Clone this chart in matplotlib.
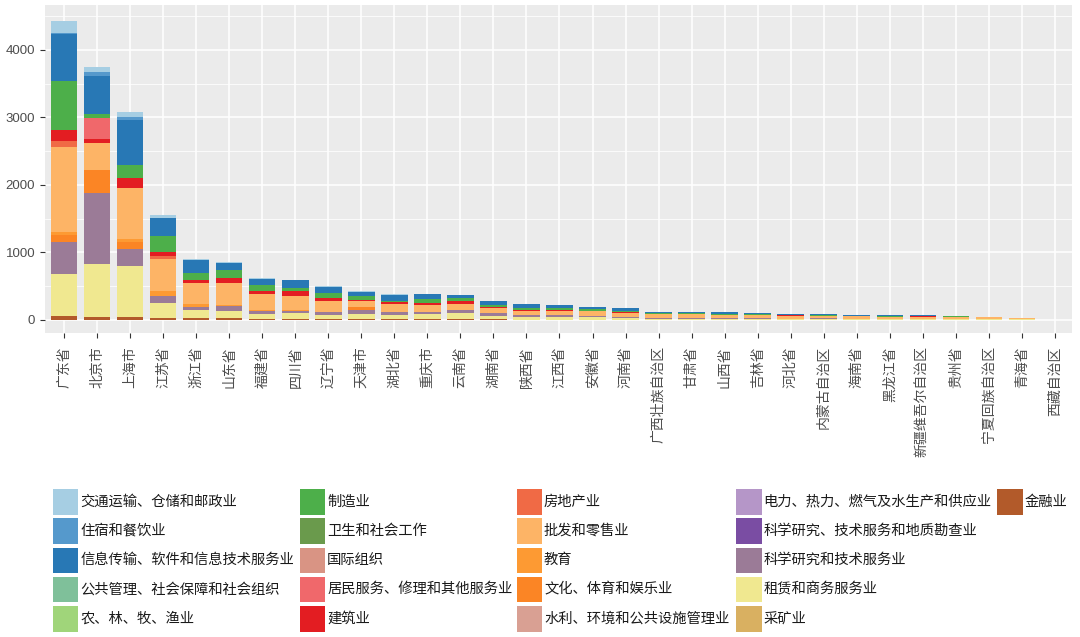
import matplotlib
matplotlib.use("Agg")
import matplotlib.pyplot as plt
from matplotlib.patches import Rectangle
import numpy as np

provinces = ["广东省", "北京市", "上海市", "江苏省", "浙江省", "山东省", "福建省", "四川省",
             "辽宁省", "天津市", "湖北省", "重庆市", "云南省", "湖南省", "陕西省", "江西省",
             "安徽省", "河南省", "广西壮族自治区", "甘肃省", "山西省", "吉林省", "河北省",
             "内蒙古自治区", "海南省", "黑龙江省", "新疆维吾尔自治区", "贵州省", "宁夏回族自治区",
             "青海省", "西藏自治区"]

industries = ["交通运输、仓储和邮政业", "住宿和餐饮业", "信息传输、软件和信息技术服务业",
              "公共管理、社会保障和社会组织", "农、林、牧、渔业", "制造业", "卫生和社会工作",
              "国际组织", "居民服务、修理和其他服务业", "建筑业", "房地产业", "批发和零售业",
              "教育", "文化、体育和娱乐业", "水利、环境和公共设施管理业",
              "电力、热力、燃气及水生产和供应业", "科学研究、技术服务和地质勘查业",
              "科学研究和技术服务业", "租赁和商务服务业", "采矿业", "金融业"]

colors = ["#a6cee3", "#5599cc", "#2878b5", "#7fc09a", "#a0d57a", "#4daf4a", "#6a9a4c",
          "#d99484", "#f0686b", "#e31d22", "#f06a45", "#fdb466", "#fd9a33", "#fb8525",
          "#d9a093", "#b596c8", "#7a4da3", "#9b7b97", "#f0e890", "#d9b061", "#b25a2a"]

# values per industry, in province order
jiaotong  = [182, 74, 70, 45, 15, 20, 10, 10, 10, 20, 5, 0, 0, 0, 0, 0, 0, 0, 0, 0, 0, 0, 0, 0, 0, 0, 0, 0, 0, 0, 0]
zhusu     = [20, 64, 40, 0, 0, 0, 0, 0, 0, 0, 0, 0, 0, 0, 0, 0, 0, 0, 0, 0, 0, 0, 0, 0, 0, 0, 0, 0, 0, 0, 0]
xinxi     = [700, 568, 672, 262, 192, 103, 88, 114, 79, 64, 90, 74, 50, 59, 59, 45, 40, 40, 25, 20, 25, 20, 15, 20, 15, 15, 10, 12, 0, 0, 0]
gonggong  = [0] * 31
nonglin   = [0, 0, 0, 0, 0, 0, 0, 0, 0, 0, 0, 0, 0, 0, 0, 0, 0, 0, 0, 0, 0, 0, 0, 0, 0, 0, 0, 0, 0, 3, 0]
zhizao    = [716, 59, 183, 232, 99, 124, 89, 49, 74, 50, 20, 50, 35, 25, 25, 22, 20, 20, 10, 15, 10, 15, 10, 8, 8, 10, 10, 5, 8, 6, 0]
weisheng  = [0] * 31
guoji     = [0] * 31
jumin     = [0, 307, 0, 0, 0, 0, 0, 0, 0, 0, 0, 0, 0, 0, 0, 0, 0, 0, 0, 0, 0, 0, 0, 0, 0, 0, 0, 0, 0, 0, 0]
jianzhu   = [173, 64, 148, 64, 50, 64, 50, 64, 50, 24, 35, 35, 50, 25, 15, 18, 10, 8, 0, 0, 0, 0, 10, 0, 0, 0, 8, 0, 0, 0, 0]
fangdichan = [84, 0, 0, 49, 0, 0, 0, 0, 0, 0, 0, 0, 0, 0, 0, 0, 0, 0, 0, 0, 0, 0, 0, 0, 0, 0, 0, 0, 0, 0, 0]
pifa      = [1264, 395, 765, 479, 306, 331, 232, 208, 162, 75, 118, 99, 89, 74, 59, 60, 69, 56, 60, 55, 50, 45, 40, 40, 35, 35, 30, 35, 28, 13, 3]
jiaoyu    = [40, 0, 40, 60, 40, 15, 15, 15, 10, 0, 0, 0, 0, 0, 0, 0, 0, 0, 0, 0, 0, 0, 0, 0, 0, 0, 0, 0, 0, 0, 0]
wenhua    = [108, 336, 98, 0, 0, 0, 0, 0, 0, 49, 0, 0, 0, 0, 0, 0, 0, 0, 0, 0, 0, 0, 0, 0, 0, 0, 0, 0, 0, 0, 0]
shuili    = [0] * 31
dianli    = [0] * 31
dizhi     = [0] * 31
keji      = [465, 1056, 257, 113, 49, 74, 50, 35, 35, 64, 40, 40, 50, 35, 25, 25, 15, 15, 10, 10, 10, 10, 5, 10, 8, 4, 4, 0, 0, 0, 0]
zulin     = [622, 781, 751, 222, 123, 108, 70, 85, 60, 74, 64, 74, 88, 57, 44, 44, 40, 32, 18, 15, 17, 16, 10, 10, 10, 10, 10, 12, 8, 8, 2]
caikuang  = [10, 0, 0, 0, 0, 0, 0, 0, 0, 0, 0, 0, 0, 0, 0, 0, 0, 0, 0, 0, 0, 0, 0, 0, 0, 0, 0, 0, 0, 0, 0]
jinrong   = [50, 49, 49, 25, 25, 25, 14, 14, 14, 10, 8, 8, 8, 6, 5, 4, 3, 2, 0, 0, 0, 0, 0, 0, 0, 0, 0, 0, 0, 0, 0]

series = [jiaotong, zhusu, xinxi, gonggong, nonglin, zhizao, weisheng, guoji, jumin, jianzhu,
          fangdichan, pifa, jiaoyu, wenhua, shuili, dianli, dizhi, keji, zulin, caikuang, jinrong]

yticks = [0, 1000, 2000, 3000, 4000]

W, H = 1080, 637
fig = plt.figure(figsize=(W / 100, H / 100), dpi=100)
ax = fig.add_axes([45 / W, 1 - 333 / H, (1072 - 45) / W, (333 - 5) / H])
ax.set_facecolor("#ebebeb")
for s in ax.spines.values():
    s.set_visible(False)

x = np.arange(len(provinces))
bottom = np.zeros(len(provinces))
# ggplot stacks first factor level on top -> draw from last to first
for vals, col in reversed(list(zip(series, colors))):
    v = np.array(vals, dtype=float)
    ax.bar(x, v, width=0.8, bottom=bottom, color=col, linewidth=0, zorder=3)
    bottom += v

ax.set_xlim(-0.58, len(provinces) - 1 + 0.52)
ax.set_ylim(-195, 4665)
ax.set_yticks(yticks)
ax.set_yticks([500, 1500, 2500, 3500, 4500], minor=True)
ax.set_xticks(x)
ax.grid(which="major", color="white", linewidth=1.1, zorder=1)
ax.grid(which="minor", axis="y", color="white", linewidth=0.55, zorder=1)
ax.tick_params(axis="y", which="minor", length=0)
ax.tick_params(axis="both", which="major", length=3.5, width=0.8, color="#333333",
               labelcolor="#4d4d4d")
ax.set_yticklabels([str(t) for t in yticks], fontsize=9.5, family="Liberation Sans")
ax.set_xticklabels(provinces, rotation=90, fontsize=10, family=["Noto Sans CJK SC", "DejaVu Sans"],
                   ha="center", va="top")
ax.tick_params(axis="x", pad=6)

# legend (5 columns, filled column-wise, 5 rows)
col_x = [52.7, 299.6, 516.5, 736.0, 997.0]
row_top = [489.0, 518.0, 547.5, 576.5, 606.0]
key = 25.5
for i, (name, col) in enumerate(zip(industries, colors)):
    c, r = divmod(i, 5)
    kx, ky = col_x[c], row_top[r]
    fig.add_artist(Rectangle((kx / W, 1 - (ky + key) / H), key / W, key / H,
                             transform=fig.transFigure, facecolor=col, edgecolor="none"))
    fig.text((kx + 27.5) / W, 1 - (ky + key / 2) / H, name, fontsize=10.3,
             family=["Noto Sans CJK SC", "DejaVu Sans"], color="#1a1a1a",
             ha="left", va="center")

fig.savefig("out.png", dpi=100, facecolor="white")
